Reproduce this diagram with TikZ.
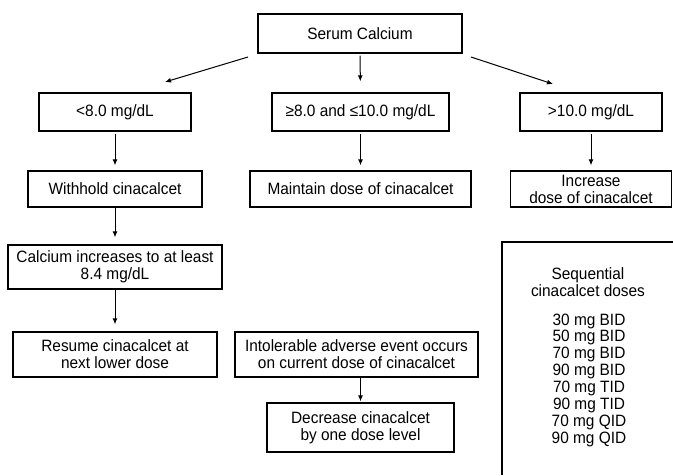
\documentclass[tikz,border=0pt]{standalone}
\usepackage{fontspec}
\setmainfont{Liberation Sans}[FakeStretch=0.94]
\usetikzlibrary{arrows.meta}

\begin{document}
\begin{tikzpicture}[x=1pt,y=-1pt,
   box/.style={draw,line width=1.3pt,align=center,inner sep=0pt,
      font=\fontsize{16.4}{17}\selectfont},
   txt/.style={align=center,inner sep=0pt,font=\fontsize{16.4}{17}\selectfont},
   arr/.style={-{Latex[length=6pt,width=5pt]},line width=1pt}]
   \useasboundingbox (0,0) rectangle (673,475);
% livello calcio
   \node[box,minimum width=204,minimum height=39] (serum) at (360,33.5)
   {Serum Calcium};
   \node[box,minimum width=152,minimum height=38] (low) at (115,112)
   {<8.0 mg/dL}; \node[box,minimum width=177,minimum height=38] (mid) at
   (360.5,112) {≥8.0 and ≤10.0 mg/dL}; \node[box,minimum
   width=142,minimum height=38] (high) at (591,112) {>10.0 mg/dL};
% azioni
   \node[box,minimum width=174,minimum height=36] (wh) at (115,189)
   {Withhold cinacalcet}; \node[box,minimum width=221,minimum
   height=36] (maint) at (360.5,189) {Maintain dose of cinacalcet};
   \node[box,minimum width=161,minimum height=36] (inc) at (591,189)
   {Increase\\dose of cinacalcet};
   \node[box,minimum width=214,minimum height=44] (ca) at (115,267)
   {Calcium increases to at least\\8.4 mg/dL};
   \node[box,minimum width=204,minimum height=45] (res) at (115,354.5)
   {Resume cinacalcet at\\next lower dose};
   \node[box,minimum width=243,minimum height=45] (ae) at (356.5,354.5)
   {Intolerable adverse event occurs\\on current dose of cinacalcet};
   \node[box,minimum width=187,minimum height=49] (dec) at (360.5,427.5)
   {Decrease cinacalcet\\by one dose level};
% frecce
   \coordinate (sl) at (248,57); \coordinate (el) at (165,82);
   \coordinate (sr) at (471,57); \coordinate (er) at (553,84);
   \draw[arr] (sl) -- (el); \draw[arr] (sr) -- (er);
   \draw[arr,shorten <=2pt,shorten >=11pt] (serum) -- (mid);
   \draw[arr,shorten <=2pt,shorten >=5pt] (low) -- (wh);
   \draw[arr,shorten <=2pt,shorten >=5pt] (mid) -- (maint);
   \draw[arr,shorten <=2pt,shorten >=5pt] (high) -- (inc);
   \draw[arr,shorten >=7pt] (wh) -- (ca);
   \draw[arr,shorten >=7pt] (ca) -- (res);
   \draw[arr,shorten >=1pt] (ae.south -| dec.north) -- (dec.north);
% dosi sequenziali
   \draw[line width=1.3pt] (673,242) -- (502,242) -- (502,475);
   \node[txt] (seqtitle) at (588,282) {Sequential\\cinacalcet doses};
   \foreach \d [count=\i] in {30 mg BID,50 mg BID,70 mg BID,90 mg
   BID,70 mg TID,90 mg TID,70 mg QID,90 mg QID} \node[txt,anchor=base]
   (dose\i) at (589,325+16.9*\i-16.9) {\d};
\end{tikzpicture}
\end{document}
